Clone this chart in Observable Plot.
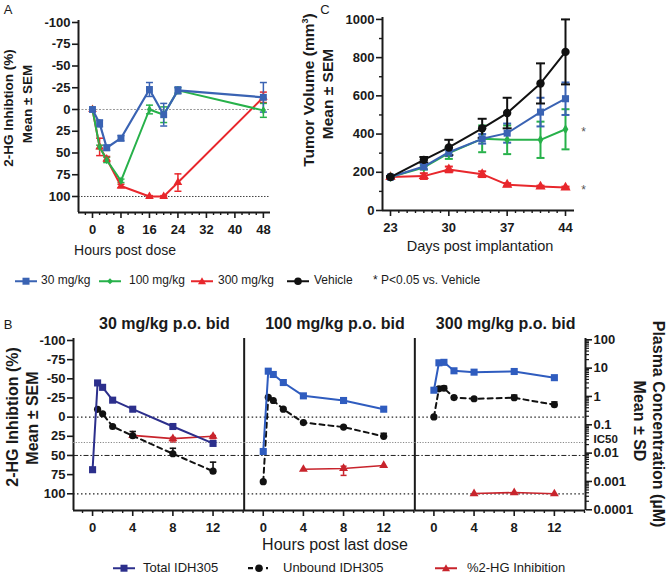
<!DOCTYPE html>
<html><head><meta charset="utf-8">
<script src="https://cdn.jsdelivr.net/npm/d3@7"></script>
<script src="https://cdn.jsdelivr.net/npm/@observablehq/plot@0.6"></script>
<style>
body{margin:0;background:#fff;}
#root{position:relative;width:666px;height:579px;overflow:hidden;font-family:"Liberation Sans",Arial,sans-serif;color:#1a1a1a;background:#fff;}
.abs{position:absolute;}
.abs svg{display:block;}
.lbl{position:absolute;white-space:nowrap;line-height:1;}
</style></head><body><div id="root"></div>
<script>
// ---------- Panel A data ----------
const hoursA = [0, 2, 4, 8, 16, 20, 24, 48];
const inhA30 = [0, 16, 44, 33, -23, 6, -22, -14];
const semA30 = [0, 4, 3, 3, 8, 13, 4, 17];
const inhA100 = [0, 43, 58, 82, 0, 6, -22, 1];
const semA100 = [0, 2, 3, 2, 5, 9, 3, 8];
const inhA300 = [0, 43, 57, 88, 100, 100, 84, -14];
const semA300 = [0, 10, 3, 2, 1, 1, 10, 6];
const ticksAx = [0, 8, 16, 24, 32, 40, 48];
const ticksAy = [-100, -75, -50, -25, 0, 25, 50, 75, 100];

// ---------- Panel C data ----------
const daysC = [23, 27, 30, 34, 37, 41, 44];
const volVeh = [175, 265, 330, 430, 510, 665, 830];
const semVeh = [5, 15, 40, 50, 80, 105, 170];
const vol30 = [175, 230, 305, 375, 405, 515, 585];
const sem30 = [5, 15, 20, 25, 50, 75, 85];
const vol100 = [175, 225, 300, 375, 370, 370, 425];
const sem100 = [5, 10, 30, 70, 75, 95, 105];
const vol300 = [175, 180, 215, 190, 135, 125, 120];
const sem300 = [5, 15, 15, 15, 8, 5, 5];
const ticksCx = [23, 30, 37, 44];
const ticksCy = [0, 200, 400, 600, 800, 1000];

// ---------- Panel B data ----------
const doseB = ["30 mg/kg p.o. bid", "100 mg/kg p.o. bid", "300 mg/kg p.o. bid"];
const hoursB = [0, 0.5, 1, 2, 4, 8, 12];
const totalB = [
  [0.0026, 3.0, 2.1, 0.74, 0.355, 0.087, 0.022],
  [0.0114, 7.8, 5.96, 3.1, 1.05, 0.72, 0.355],
  [1.66, 15.4, 16, 8.05, 7.2, 7.6, 4.6]
];
const unboundB = [
  [null, 0.35, 0.245, 0.087, 0.041, 0.0095, 0.0023],
  [0.00098, 0.93, 0.72, 0.355, 0.12, 0.083, 0.039],
  [0.19, 1.86, 1.95, 0.91, 0.83, 0.9, 0.51]
];
const unboundSDhiB = [
  [null, null, null, null, 0.058, 0.0148, 0.0048],
  [null, null, null, null, null, null, 0.05],
  [null, null, 2.3, null, null, 1.12, 0.64]
];
const inhHoursB = [4, 8, 12];
const inhB = [[23.8, 28, 25], [68, 67, 63], [99.7, 98.4, 100]];
const inhErrB = [[1, 3, 2], [0, 6, 0], [0, 0, 0]];
const ic50 = 0.0237;
const ticksBx = [0, 4, 8, 12];
const ticksBy = [-100, -75, -50, -25, 0, 25, 50, 75, 100];
const ticksBlog = [100, 10, 1, 0.1, 0.01, 0.001, 0.0001];
const labelsBlog = ["100", "10", "1", "0.1", "0.01", "0.001", "0.0001"];

// ---------- colors ----------
const BLUE = "#3a63b3", GREEN = "#27b14a", RED = "#e8272c", BLACK = "#111";
const NAVY = "#2c2f8c", BLUE2 = "#2f5cbf", RED2 = "#c8242c";

const root = document.getElementById("root");
const FONT = "'Liberation Sans', Arial, sans-serif";
const cap = {draw(ctx, size) {const r = Math.sqrt(size / Math.PI); ctx.moveTo(-r, 0); ctx.lineTo(r, 0);}};

function place(el, left, top, w) {
  const d = document.createElement("div");
  d.className = "abs"; d.style.left = left + "px"; d.style.top = top + "px"; d.style.width = w + "px";
  d.appendChild(el); root.appendChild(d);
}
function label(text, x, y, o = {}) {
  const d = document.createElement("div");
  d.className = "lbl"; d.textContent = text;
  d.style.left = x + "px"; d.style.top = y + "px";
  d.style.fontSize = (o.size || 13) + "px";
  d.style.fontWeight = o.bold ? "bold" : "normal";
  const rot = o.rot ? ` rotate(${o.rot}deg)` : "";
  const anchor = o.anchor === "start" ? "translate(0,-50%)" : "translate(-50%,-50%)";
  d.style.transform = anchor + rot;
  if (o.html) d.innerHTML = o.html;
  root.appendChild(d);
  return d;
}
const baseStyle = {background: "none", fontFamily: FONT, fontSize: "13px", fontWeight: "bold", color: "#1a1a1a", overflow: "visible", maxWidth: "none"};

function series(xs, ys, es) {
  return xs.map((x, i) => ({x, y: ys[i], lo: es ? ys[i] - es[i] : null, hi: es ? ys[i] + es[i] : null, e: es ? es[i] : 0})).filter(d => d.y != null);
}
function errMarks(data, color, r = 3.5, sw = 1.5) {
  const d = data.filter(v => v.e > 0);
  return [
    Plot.ruleX(d, {x: "x", y1: "lo", y2: "hi", stroke: color, strokeWidth: sw}),
    Plot.dot(d, {x: "x", y: "lo", symbol: cap, r, stroke: color, fill: "none", strokeWidth: sw}),
    Plot.dot(d, {x: "x", y: "hi", symbol: cap, r, stroke: color, fill: "none", strokeWidth: sw})
  ];
}
const fmt = d => String(d);

// ================= Panel A =================
{
  const dA30 = series(hoursA, inhA30, semA30), dA100 = series(hoursA, inhA100, semA100), dA300 = series(hoursA, inhA300, semA300);
  const xd = [-3.93, 50], yd = [118.4, -102.3];
  const p = Plot.plot({
    width: 300, height: 240, marginLeft: 78, marginRight: 30, marginTop: 20, marginBottom: 28,
    x: {domain: xd, axis: null}, y: {domain: yd, axis: null},
    style: baseStyle,
    marks: [
      Plot.ruleY([0], {stroke: "#999", strokeWidth: 1, strokeDasharray: "2,1.5"}),
      Plot.ruleY([100], {stroke: "#444", strokeWidth: 1, strokeDasharray: "1.5,1.5"}),
      ...errMarks(dA300, RED), ...errMarks(dA100, GREEN), ...errMarks(dA30, BLUE),
      Plot.line(dA300, {x: "x", y: "y", stroke: RED, strokeWidth: 2}),
      Plot.line(dA100, {x: "x", y: "y", stroke: GREEN, strokeWidth: 2}),
      Plot.line(dA30, {x: "x", y: "y", stroke: BLUE, strokeWidth: 2.2}),
      Plot.dot(dA300, {x: "x", y: "y", symbol: "triangle", r: 3.2, fill: RED}),
      Plot.dot(dA100, {x: "x", y: "y", symbol: "diamond", r: 2.6, fill: GREEN}),
      Plot.dot(dA30, {x: "x", y: "y", symbol: "square", r: 3.9, fill: BLUE}),
      Plot.ruleX([xd[0]], {stroke: "#1a1a1a", strokeWidth: 2}),
      Plot.ruleY([yd[0]], {stroke: "#1a1a1a", strokeWidth: 2}),
      Plot.axisY({ticks: ticksAy, tickSize: 6, tickPadding: 2, tickFormat: fmt, label: null, strokeWidth: 1.6}),
      Plot.axisX({ticks: ticksAx, tickSize: 6, tickPadding: 6, tickFormat: fmt, label: null, strokeWidth: 1.6}),
      Plot.axisX({ticks: d3.range(-2, 50, 2).filter(t => t % 8 !== 0), tickSize: 3, tickFormat: () => "", label: null, strokeWidth: 1.4})
    ]
  });
  place(p, 0, 0, 300);
  label("A", 8, 9, {size: 13});
  label("2-HG Inhibtion (%)", 9, 108, {size: 13.5, bold: true, rot: -90});
  label("Mean ± SEM", 28, 104, {size: 13.5, bold: true, rot: -90});
  label("Hours post dose", 125, 250, {size: 14});
}

// ================= Panel C =================
{
  const v = series(daysC, volVeh, semVeh), b = series(daysC, vol30, sem30), g = series(daysC, vol100, sem100), r = series(daysC, vol300, sem300);
  const xd = [22.04, 45.08], yd = [0, 1010];
  const p = Plot.plot({
    width: 366, height: 240, marginLeft: 82, marginRight: 92, marginTop: 17, marginBottom: 30,
    x: {domain: xd, axis: null}, y: {domain: yd, axis: null},
    style: baseStyle,
    marks: [
      ...errMarks(r, RED, 4, 2), ...errMarks(g, GREEN, 4, 2), ...errMarks(b, BLUE, 4, 2), ...errMarks(v, BLACK, 4.5, 2),
      Plot.line(r, {x: "x", y: "y", stroke: RED, strokeWidth: 2}),
      Plot.line(g, {x: "x", y: "y", stroke: GREEN, strokeWidth: 2}),
      Plot.line(b, {x: "x", y: "y", stroke: BLUE, strokeWidth: 2}),
      Plot.line(v, {x: "x", y: "y", stroke: BLACK, strokeWidth: 2}),
      Plot.dot(r, {x: "x", y: "y", symbol: "triangle", r: 3.8, fill: RED}),
      Plot.dot(g, {x: "x", y: "y", symbol: "diamond", r: 3, fill: GREEN}),
      Plot.dot(b, {x: "x", y: "y", symbol: "square", r: 4, fill: BLUE}),
      Plot.dot(v, {x: "x", y: "y", symbol: "circle", r: 4.2, fill: BLACK}),
      Plot.text([daysC.at(-1)], {x: d => d, y: [vol100.at(-1)], text: ["*"], dx: 18, dy: 3, fontWeight: "normal", fontSize: 12, fill: "#555"}),
      Plot.text([daysC.at(-1)], {x: d => d, y: [vol300.at(-1)], text: ["*"], dx: 18, dy: 3, fontWeight: "normal", fontSize: 12, fill: "#555"}),
      Plot.ruleX([xd[0]], {stroke: "#1a1a1a", strokeWidth: 2}),
      Plot.ruleY([yd[0]], {stroke: "#1a1a1a", strokeWidth: 2}),
      Plot.axisY({ticks: ticksCy, tickSize: 6, tickPadding: 2, tickFormat: fmt, label: null, strokeWidth: 1.6}),
      Plot.axisY({ticks: d3.range(100, 1000, 200), tickSize: 3, tickFormat: () => "", label: null, strokeWidth: 1.4}),
      Plot.axisX({ticks: ticksCx, tickSize: 6, tickPadding: 6, tickFormat: fmt, label: null, strokeWidth: 1.6}),
      Plot.axisX({ticks: d3.range(23, 45).filter(t => !ticksCx.includes(t)), tickSize: 3, tickFormat: () => "", label: null, strokeWidth: 1.4})
    ]
  });
  place(p, 300, 0, 366);
  label("C", 325, 9, {size: 13});
  label("", 309, 90, {size: 15.5, bold: true, rot: -90, html: "Tumor Volume (mm<sup style='font-size:9px'>3</sup>)"});
  label("Mean ± SEM", 328, 94, {size: 15.5, bold: true, rot: -90});
  label("Days post implantation", 480, 246, {size: 14.5});
}

// ================= Legend A/C =================
function icon(color, sym, dashed) {
  const ns = "http://www.w3.org/2000/svg";
  let shape = "";
  if (sym === "square") shape = `<rect x="7.5" y="2.5" width="7" height="7" fill="${color}"/>`;
  if (sym === "diamond") shape = `<polygon points="11,3 14,6 11,9 8,6" fill="${color}"/>`;
  if (sym === "triangle") shape = `<polygon points="11,2 15,9 7,9" fill="${color}"/>`;
  if (sym === "circle") shape = `<circle cx="11" cy="6" r="3.8" fill="${color}"/>`;
  const line = dashed
    ? `<line x1="0" y1="6" x2="5" y2="6" stroke="${color}" stroke-width="2.2"/><line x1="18" y1="6" x2="20" y2="6" stroke="${color}" stroke-width="2.2"/>`
    : `<line x1="0" y1="6" x2="22" y2="6" stroke="${color}" stroke-width="2"/>`;
  return `<svg xmlns="${ns}" width="22" height="12" style="display:inline-block;vertical-align:middle">${line}${shape}</svg>`;
}
[[BLUE, "square", "30 mg/kg", 15, 41], [GREEN, "diamond", "100 mg/kg", 99, 129], [RED, "triangle", "300 mg/kg", 191, 218], [BLACK, "circle", "Vehicle", 287, 314]].forEach(([c, s, t, ix, tx]) => {
  label("", ix, 280, {anchor: "start", html: icon(c, s)});
  label(t, tx, 280, {anchor: "start", size: 12});
});
label("* P<0.05 vs. Vehicle", 373, 280, {anchor: "start", size: 12});

// ================= Panel B =================
{
  const W = 512 / 3, L0 = 73, TOP = 300, H = 240;
  const linYd = [121.8, -102.6], logYd = [9.44e-5, 111], xd = [-1.9, 15.1];
  const minor = d3.range(-1, 16).filter(t => !ticksBx.includes(t));
  const logMinor = [];
  for (let k = -4; k < 2; k++) for (let m = 2; m < 10; m++) logMinor.push(m * 10 ** k);
  for (let i = 0; i < 3; i++) {
    const mL = L0 + W * i, mR = 666 - (L0 + W * (i + 1));
    const blue = i === 0 ? NAVY : BLUE2;
    const inh = inhHoursB.map((x, j) => ({x, y: inhB[i][j], e: inhErrB[i][j], lo: inhB[i][j] - inhErrB[i][j] * 0.5, hi: inhB[i][j] + inhErrB[i][j] * 1.5}));
    const tot = hoursB.map((x, j) => ({x, y: totalB[i][j]}));
    const unb = hoursB.map((x, j) => ({x, y: unboundB[i][j], hi: unboundSDhiB[i][j]})).filter(d => d.y != null);
    const unbErr = unb.filter(d => d.hi != null);
    const common = {width: 666, height: H, marginLeft: mL, marginRight: mR, marginTop: 38, marginBottom: 30, style: baseStyle};
    // linear (inhibition) layer
    const linMarks = [
      Plot.ruleY([0], {stroke: "#222", strokeWidth: 1.3, strokeDasharray: "1.5,2.5"}),
      Plot.ruleY([50], {stroke: "#222", strokeWidth: 1, strokeDasharray: "5,2,1.5,2"}),
      Plot.ruleY([100], {stroke: "#222", strokeWidth: 1.3, strokeDasharray: "1.5,2.5"}),
      ...errMarks(inh, RED2, 3, 1.5),
      Plot.line(inh, {x: "x", y: "y", stroke: RED2, strokeWidth: 1.6}),
      Plot.dot(inh, {x: "x", y: "y", symbol: "triangle", r: 3.3, fill: RED2}),
      Plot.ruleY([linYd[0]], {stroke: "#1a1a1a", strokeWidth: 2}),
      Plot.axisX({ticks: ticksBx, tickSize: 6, tickPadding: 6, tickFormat: fmt, label: null, strokeWidth: 1.6}),
      Plot.axisX({ticks: minor, tickSize: 3, tickFormat: () => "", label: null, strokeWidth: 1.4})
    ];
    if (i === 0) {
      linMarks.push(Plot.ruleX([xd[0]], {stroke: "#1a1a1a", strokeWidth: 2}));
      linMarks.push(Plot.axisY({ticks: ticksBy, tickSize: 6, tickPadding: 2, tickFormat: fmt, label: null, strokeWidth: 1.6}));
    }
    if (i < 2) linMarks.push(Plot.ruleX([xd[1]], {stroke: "#1a1a1a", strokeWidth: 2}));
    const pl = Plot.plot({...common, x: {domain: xd, axis: null}, y: {domain: linYd, axis: null}, marks: linMarks});
    place(pl, 0, TOP, 666);
    // log (concentration) layer
    const logMarks = [
      Plot.ruleY([ic50], {stroke: "#888", strokeWidth: 1, strokeDasharray: "1.2,1.5"}),
      Plot.ruleX(unbErr, {x: "x", y1: "y", y2: "hi", stroke: BLACK, strokeWidth: 1.6}),
      Plot.dot(unbErr, {x: "x", y: "hi", symbol: cap, r: 3.2, stroke: BLACK, fill: "none", strokeWidth: 1.6}),
      Plot.line(unb, {x: "x", y: "y", stroke: BLACK, strokeWidth: 2, strokeDasharray: "5,4"}),
      Plot.dot(unb, {x: "x", y: "y", symbol: "circle", r: 3.6, fill: BLACK}),
      Plot.line(tot, {x: "x", y: "y", stroke: blue, strokeWidth: 2}),
      Plot.dot(tot, {x: "x", y: "y", symbol: "square", r: 4, fill: blue})
    ];
    if (i === 2) {
      logMarks.push(Plot.ruleX([xd[1]], {stroke: "#1a1a1a", strokeWidth: 2}));
      logMarks.push(Plot.axisY({anchor: "right", ticks: ticksBlog, tickSize: 6, tickPadding: 2, tickFormat: d => labelsBlog[ticksBlog.indexOf(d)], label: null, strokeWidth: 1.6}));
      logMarks.push(Plot.axisY({anchor: "right", ticks: logMinor, tickSize: 3, tickFormat: () => "", label: null, strokeWidth: 1.2}));
      logMarks.push(Plot.text(["IC50"], {x: xd[1], y: [ic50], text: d => d, dx: 8, dy: -3, textAnchor: "start", fontSize: 11.5}));
    }
    const pg = Plot.plot({...common, x: {domain: xd, axis: null}, y: {type: "log", domain: logYd, axis: null}, marks: logMarks});
    place(pg, 0, TOP, 666);
    label(doseB[i], mL + W / 2 + 6, 324, {size: 16, bold: true});
  }
  label("B", 8, 324, {size: 13});
  label("2-HG Inhibtion (%)", 13, 417, {size: 16, bold: true, rot: -90});
  label("Mean ± SEM", 33, 418, {size: 16, bold: true, rot: -90});
  label("Plasma Concentration (µM)", 658, 424, {size: 16, bold: true, rot: 90});
  label("Mean ± SD", 639, 421, {size: 16, bold: true, rot: 90});
  label("Hours post last dose", 335, 545, {size: 16});
  // legend B
  label("", 113, 567, {anchor: "start", html: icon(NAVY, "square")});
  label("Total IDH305", 143, 567, {anchor: "start", size: 13});
  label("", 248, 567, {anchor: "start", html: icon(BLACK, "circle", true)});
  label("Unbound IDH305", 283, 567, {anchor: "start", size: 13});
  label("", 435, 567, {anchor: "start", html: icon(RED2, "triangle")});
  label("%2-HG Inhibition", 467, 567, {anchor: "start", size: 13});
}
</script></body></html>
